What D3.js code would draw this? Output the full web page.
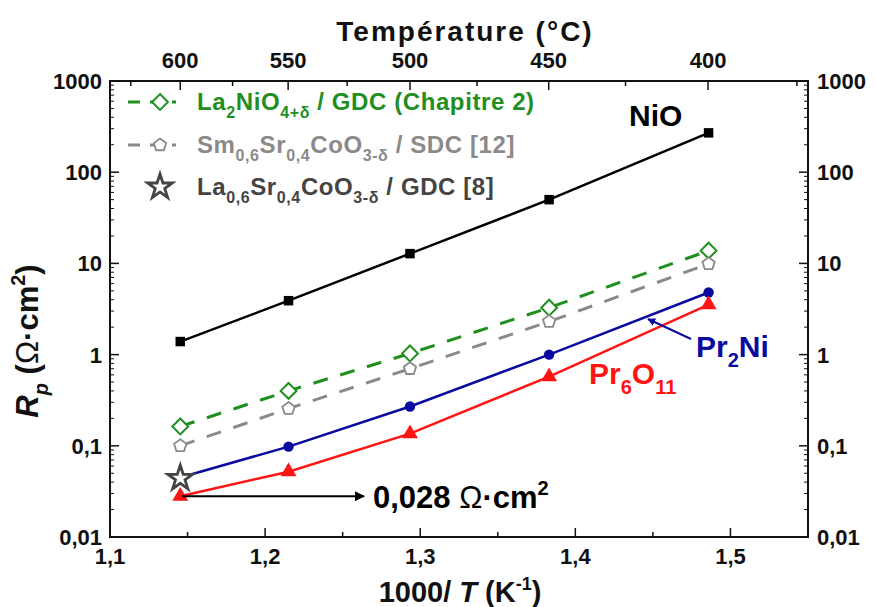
<!DOCTYPE html>
<html><head><meta charset="utf-8">
<script src="https://cdn.jsdelivr.net/npm/d3@7"></script>
<style>body{margin:0;background:#fff}svg{display:block;font-family:"Liberation Sans",Arial,sans-serif;font-weight:bold}</style>
</head><body><svg id="c" width="875" height="607"></svg>
<script>
// ---- data ----
const tempC = [600, 550, 500, 450, 400];
const invT = [1.1453, 1.2151, 1.2934, 1.3831, 1.4859]; // 1000/T (K^-1)
const nio = [1.39, 3.9, 12.8, 50, 270];
const la2nio4 = [0.163, 0.40, 1.03, 3.27, 13.8];
const ssc = [0.100, 0.256, 0.70, 2.3, 9.9];
const pr2ni = [0.045, 0.098, 0.27, 1.0, 4.8];
const pr6o11 = [0.028, 0.052, 0.136, 0.574, 3.53];
const lscStar = [{x: 1.1453, y: 0.044}];
const xTicks = [1.1, 1.2, 1.3, 1.4, 1.5];
const xMinor = [1.15, 1.25, 1.35, 1.45, 1.55];
const yTicks = [0.01, 0.1, 1, 10, 100, 1000];
const yTickLabels = ["0,01", "0,1", "1", "10", "100", "1000"];
const topTicks = [600, 550, 500, 450, 400];
const topMinor = [625, 575, 525, 475, 425, 375];

const svg = d3.select("#c");
const L = 110, R = 808, T = 81, B = 537;
const x = d3.scaleLinear().domain([1.1, 1.55]).range([L, R]);
const y = d3.scaleLog().domain([0.01, 1000]).range([B, T]);
const cToX = c => x(1000 / (c + 273.15));

// rich text helper
function rich(sel, parts, base, sub) {
  parts.forEach(p => {
    const [t, k, st] = p;
    const ts = sel.append("tspan").text(t);
    if (k === "s") ts.attr("font-size", sub).attr("dy", base * 0.32);
    else if (k === "p") ts.attr("font-size", sub).attr("dy", -base * 0.42);
    if (st) Object.entries(st).forEach(([a, v]) => ts.attr(a, v));
  });
  const spans = sel.selectAll("tspan").nodes();
  for (let i = 1; i < spans.length; i++) {
    const prev = parts[i - 1][1], cur = parts[i][1];
    if ((prev === "s" || prev === "p") && !(cur === "s" || cur === "p")) {
      const d = prev === "s" ? -base * 0.32 : base * 0.42;
      d3.select(spans[i]).attr("dy", d);
    }
  }
  return sel;
}

// ---- frame ----
const ax = svg.append("g").attr("stroke", "#111").attr("fill", "none");
ax.append("rect").attr("x", L).attr("y", T).attr("width", R - L).attr("height", B - T).attr("stroke-width", 2);

xTicks.forEach(v => {
  ax.append("line").attr("x1", x(v)).attr("x2", x(v)).attr("y1", B).attr("y2", B - 9).attr("stroke-width", 1.5);
});
xMinor.forEach(v => {
  if (x(v) < R - 1) ax.append("line").attr("x1", x(v)).attr("x2", x(v)).attr("y1", B).attr("y2", B - 5).attr("stroke-width", 1.5);
});
topTicks.forEach(c => {
  ax.append("line").attr("x1", cToX(c)).attr("x2", cToX(c)).attr("y1", T).attr("y2", T + 9).attr("stroke-width", 1.5);
});
topMinor.forEach(c => {
  const px = cToX(c);
  if (px > L + 1 && px < R - 1) ax.append("line").attr("x1", px).attr("x2", px).attr("y1", T).attr("y2", T + 5).attr("stroke-width", 1.5);
});
yTicks.forEach((v, i) => {
  [[L, 1], [R, -1]].forEach(([ex, d]) => {
    ax.append("line").attr("x1", ex).attr("x2", ex + d * 9).attr("y1", y(v)).attr("y2", y(v)).attr("stroke-width", 1.5);
    if (i < yTicks.length - 1) {
      for (let m = 2; m <= 9; m++) {
        const yy = y(v * m);
        ax.append("line").attr("x1", ex).attr("x2", ex + d * 4).attr("y1", yy).attr("y2", yy).attr("stroke-width", 1);
      }
    }
  });
});

// tick labels
const lab = svg.append("g").attr("fill", "#111").attr("font-size", 22);
xTicks.forEach(v => {
  lab.append("text").attr("x", x(v)).attr("y", 564).attr("text-anchor", "middle").text(d3.format(".1f")(v).replace(".", ","));
});
topTicks.forEach(c => {
  lab.append("text").attr("x", cToX(c)).attr("y", 68).attr("text-anchor", "middle").text(c);
});
yTicks.forEach((v, i) => {
  lab.append("text").attr("x", 102).attr("y", y(v) + 8).attr("text-anchor", "end").text(yTickLabels[i]);
  lab.append("text").attr("x", 817).attr("y", y(v) + 8).attr("text-anchor", "start").text(yTickLabels[i]);
});

// axis titles
svg.append("text").attr("x", 465).attr("y", 41).attr("text-anchor", "middle").attr("font-size", 28)
  .attr("letter-spacing", 2).attr("fill", "#111").text("Température (°C)");
rich(svg.append("text").attr("x", 460).attr("y", 602).attr("text-anchor", "middle").attr("font-size", 29).attr("fill", "#111"),
  [["1000/ ", "n"], ["T", "n", {"font-style": "italic"}], [" (K", "n"], ["-1", "p"], [")", "n"]], 29, 18);
rich(svg.append("text").attr("transform", "translate(38,341) rotate(-90)").attr("text-anchor", "middle").attr("font-size", 31).attr("fill", "#111"),
  [["R", "n", {"font-style": "italic"}], ["p", "s", {"font-style": "italic"}], [" (", "n"], ["Ω", "n", {"font-weight": "normal"}], ["·cm", "n"], ["2", "p"], [")", "n"]], 31, 20);

// ---- series ----
const line = d3.line().x(d => x(d.x)).y(d => y(d.y));
const pts = vals => invT.map((v, i) => ({x: v, y: vals[i]}));
const sym = (type, size) => d3.symbol().type(type).size(size)();

function series(vals, color, dash, width) {
  svg.append("path").datum(pts(vals)).attr("d", line).attr("fill", "none")
    .attr("stroke", color).attr("stroke-width", width).attr("stroke-dasharray", dash);
}
series(ssc, "#8a8a8a", "15,13", 3);
series(la2nio4, "#1f8f1f", "15,13", 3);
series(nio, "#000", null, 2.5);
series(pr6o11, "#ff1414", null, 2.5);
series(pr2ni, "#0a0aa0", null, 2.5);

function pentagon(r) {
  const p = d3.range(5).map(i => { const a = -Math.PI / 2 + i * 2 * Math.PI / 5; return [r * Math.cos(a), r * Math.sin(a)]; });
  return "M" + p.map(q => q.join(",")).join("L") + "Z";
}
function star(s) { return d3.symbol().type(d3.symbolStar).size(s)(); }

function markers(vals, fn) {
  svg.append("g").selectAll("path").data(pts(vals)).join("path")
    .attr("transform", d => `translate(${x(d.x)},${y(d.y)})`).each(fn);
}
markers(nio, function () { d3.select(this).attr("d", sym(d3.symbolSquare, 90)).attr("fill", "#000"); });
markers(la2nio4, function () { d3.select(this).attr("d", sym(d3.symbolDiamond2, 160)).attr("fill", "#fff").attr("stroke", "#1f8f1f").attr("stroke-width", 2); });
markers(ssc, function () { d3.select(this).attr("d", pentagon(6.5)).attr("fill", "#fff").attr("stroke", "#8a8a8a").attr("stroke-width", 1.8); });
markers(pr2ni, function () { d3.select(this).attr("d", sym(d3.symbolCircle, 85)).attr("fill", "#0a0aa0"); });
markers(pr6o11, function () { d3.select(this).attr("d", sym(d3.symbolTriangle, 110)).attr("fill", "#ff1414"); });

svg.append("g").selectAll("path").data(lscStar).join("path")
  .attr("transform", d => `translate(${x(d.x)},${y(d.y)})`).attr("d", star(190))
  .attr("fill", "#fff").attr("stroke", "#444").attr("stroke-width", 2.8).attr("stroke-linejoin", "miter");

// ---- legend ----
const leg = svg.append("g");
const legRows = [
  {y: 102, color: "#1f8f1f", dash: true, mk: "diamond",
   parts: [["La", "n"], ["2", "s"], ["NiO", "n"], ["4+δ", "s"], [" / GDC (Chapitre 2)", "n"]]},
  {y: 145, color: "#8a8a8a", dash: true, mk: "pent",
   parts: [["Sm", "n"], ["0,6", "s"], ["Sr", "n"], ["0,4", "s"], ["CoO", "n"], ["3-δ", "s"], [" / SDC [12]", "n"]]},
  {y: 187, color: "#444", dash: false, mk: "star",
   parts: [["La", "n"], ["0,6", "s"], ["Sr", "n"], ["0,4", "s"], ["CoO", "n"], ["3-δ", "s"], [" / GDC [8]", "n"]]}
];
legRows.forEach(r => {
  if (r.dash) leg.append("line").attr("x1", 128).attr("x2", 176).attr("y1", r.y).attr("y2", r.y)
    .attr("stroke", r.color).attr("stroke-width", 3).attr("stroke-dasharray", "12,10");
  const mp = leg.append("path").attr("transform", `translate(160,${r.y})`).attr("fill", "#fff");
  if (r.mk === "diamond") mp.attr("d", sym(d3.symbolDiamond2, 160)).attr("stroke", r.color).attr("stroke-width", 2);
  else if (r.mk === "pent") mp.attr("d", pentagon(6.5)).attr("stroke", r.color).attr("stroke-width", 1.8);
  else mp.attr("d", star(190)).attr("stroke", r.color).attr("stroke-width", 2.8);
  rich(leg.append("text").attr("x", 197).attr("y", r.y + 8).attr("font-size", 24).attr("letter-spacing", 0.6).attr("fill", r.color), r.parts, 24, 16);
});

// ---- annotations ----
svg.append("text").attr("x", 629).attr("y", 126).attr("font-size", 30).attr("fill", "#000").text("NiO");
rich(svg.append("text").attr("x", 696).attr("y", 357).attr("font-size", 30).attr("fill", "#0a0aa0"),
  [["Pr", "n"], ["2", "s"], ["Ni", "n"]], 30, 20);
rich(svg.append("text").attr("x", 589).attr("y", 384).attr("font-size", 30).attr("fill", "#ff1414"),
  [["Pr", "n"], ["6", "s"], ["O", "n"], ["11", "s"]], 30, 20);
rich(svg.append("text").attr("x", 373).attr("y", 508).attr("font-size", 31).attr("fill", "#000"),
  [["0,028 ", "n"], ["Ω", "n", {"font-weight": "normal"}], ["·cm", "n"], ["2", "p"]], 31, 20);

const defs = svg.append("defs");
defs.append("marker").attr("id", "ah").attr("viewBox", "0 0 10 10").attr("refX", 9).attr("refY", 5)
  .attr("markerWidth", 5).attr("markerHeight", 5).attr("orient", "auto")
  .append("path").attr("d", "M0,0L10,5L0,10Z").attr("fill", "#000");
defs.append("marker").attr("id", "ahb").attr("viewBox", "0 0 10 10").attr("refX", 9).attr("refY", 5)
  .attr("markerWidth", 4).attr("markerHeight", 4).attr("orient", "auto")
  .append("path").attr("d", "M0,0L10,5L0,10Z").attr("fill", "#0a0aa0");
svg.append("line").attr("x1", x(invT[0]) + 2).attr("x2", 364).attr("y1", y(pr6o11[0])).attr("y2", y(pr6o11[0]))
  .attr("stroke", "#000").attr("stroke-width", 2).attr("marker-end", "url(#ah)");
svg.append("line").attr("x1", 691).attr("y1", 339).attr("x2", 648).attr("y2", 319)
  .attr("stroke", "#0a0aa0").attr("stroke-width", 2).attr("marker-end", "url(#ahb)");
</script></body></html>
